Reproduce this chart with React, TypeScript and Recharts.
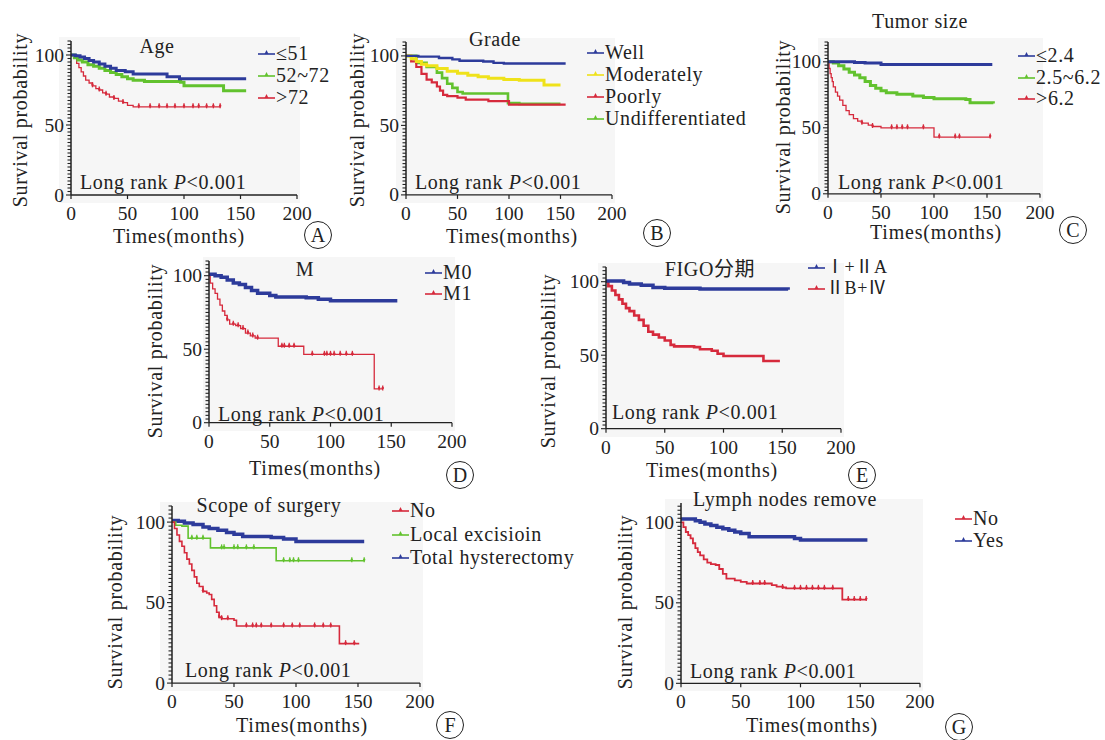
import React from 'react';
import { ComposedChart, Line, XAxis, YAxis } from 'recharts';

const SERIF = '"Liberation Serif", "Noto Sans CJK SC", serif';
const BLUE = '#2d3b9b';
const GREEN = '#62c22e';
const RED = '#d62a3c';
const YELLOW = '#efe21a';
const INK = '#222';

// [time in months, survival %, 1 = censored mark]
type Pt = [number, number, number?];

const xTicks = [0, 50, 100, 150, 200];
const yLabels = [0, 50, 100];

// A: Age
const ageLe51: Pt[] = [[0, 100], [4, 99.5], [8, 98.5], [12, 97.5], [16, 96], [20, 95], [25, 93.5], [30, 92], [35, 90.5], [40, 89], [48, 88], [55, 86.5], [85, 84.5], [96, 83], [155, 83]];
const age52to72: Pt[] = [[0, 100], [3, 98], [6, 96.5], [10, 95], [15, 93], [20, 92], [25, 90.5], [30, 89], [35, 87.5], [40, 86], [45, 84.5], [50, 83], [55, 82], [65, 81], [97, 80.5], [100, 78], [134, 78], [135, 74.5], [155, 74.5]];
const ageGt72: Pt[] = [[0, 100], [5, 94], [7, 91], [9, 88], [11, 85], [13, 82], [16, 80], [19, 78, 1], [22, 76], [25, 75, 1], [28, 73], [31, 72, 1], [34, 70], [38, 69, 1], [42, 67], [46, 66, 1], [50, 64], [55, 63], [60, 63, 1], [70, 63, 1], [78, 63, 1], [85, 63, 1], [92, 63, 1], [100, 63, 1], [108, 63, 1], [113, 63, 1], [120, 63, 1], [126, 63, 1], [132, 63, 1]];

// B: Grade
const gradeWell: Pt[] = [[0, 100], [12, 99.5], [32, 98.5], [45, 97.5], [52, 96.5], [75, 96], [85, 95], [95, 94.5], [155, 94.5]];
const gradeModerately: Pt[] = [[0, 100], [5, 98], [10, 96], [15, 94], [20, 93], [30, 91], [40, 89], [50, 87.5], [60, 86], [70, 85], [80, 84], [95, 83], [110, 82.5], [132, 82.5], [134, 79], [150, 79]];
const gradePoorly: Pt[] = [[0, 100], [5, 96], [10, 92], [15, 87], [20, 83], [25, 81], [30, 78], [33, 75], [36, 72], [40, 71], [50, 70], [58, 68.5], [80, 67.5], [100, 65], [155, 65]];
const gradeUndiff: Pt[] = [[0, 100], [10, 95], [20, 92], [30, 88], [35, 84], [40, 80], [45, 77], [50, 74], [55, 73], [97, 73], [99, 66], [110, 65.5], [150, 65.5]];

// C: Tumor size
const sizeLe24: Pt[] = [[0, 100], [15, 100], [25, 99.5], [35, 99], [50, 98], [155, 98]];
const sizeMid: Pt[] = [[0, 100], [5, 99], [10, 97], [15, 94.5], [20, 92], [25, 90], [30, 88], [35, 85], [40, 82], [45, 80], [50, 78], [55, 76.5], [65, 75.5], [80, 74], [90, 73], [100, 72], [130, 71.5], [134, 69], [156, 68.5]];
const sizeGt62: Pt[] = [[0, 100], [1, 95], [2, 91], [3, 88], [4, 85], [5, 81], [7, 77], [9, 74], [11, 71], [14, 67], [17, 63], [20, 60], [24, 57], [28, 55], [32, 53.5, 1], [38, 52], [42, 51, 1], [50, 50], [60, 50, 1], [65, 50, 1], [70, 50, 1], [75, 50, 1], [90, 50, 1], [99, 50], [100, 43], [105, 43, 1], [120, 43, 1], [124, 43, 1], [153, 43, 1]];

// D: M
const mM0: Pt[] = [[0, 101], [5, 100], [10, 99], [15, 97], [20, 95], [25, 94], [30, 92], [35, 90], [40, 88], [50, 86.5], [55, 85.5], [80, 85], [90, 84], [100, 83], [155, 83]];
const mM1: Pt[] = [[0, 100], [1, 95], [3, 91], [5, 88], [7, 84], [9, 80], [11, 76], [13, 73], [15, 70, 1], [17, 67], [20, 67, 1], [22, 66], [24, 66, 1], [26, 64], [28, 64, 1], [30, 61], [32, 61, 1], [34, 59], [36, 59, 1], [38, 57.5], [40, 57.5, 1], [56, 57.5], [57, 52], [60, 52, 1], [62, 52, 1], [66, 52, 1], [70, 52, 1], [77, 52], [78, 46.5], [85, 46.5, 1], [95, 46.5, 1], [97, 46.5, 1], [100, 46.5, 1], [103, 46.5, 1], [108, 46.5, 1], [113, 46.5, 1], [118, 46.5, 1], [135, 46.5], [136, 23], [140, 23, 1], [143, 23, 1]];

// E: FIGO stage
const figoEarly: Pt[] = [[0, 100.5], [10, 100.5], [15, 99.5], [20, 98.5], [30, 97.5], [40, 96], [50, 95.5], [80, 95], [155, 94.5]];
const figoLate: Pt[] = [[0, 100], [2, 97], [5, 94], [8, 91], [11, 88], [14, 85], [17, 82], [20, 80], [24, 77], [28, 74], [32, 70], [36, 66], [40, 64], [45, 62], [50, 60], [55, 57], [58, 56], [75, 55.5], [80, 54], [90, 53], [95, 51], [100, 49.5], [130, 49.5], [134, 46], [148, 46]];

// F: Scope of surgery
const surgNo: Pt[] = [[0, 100], [2, 96], [4, 92], [6, 88], [8, 85], [10, 81], [12, 77], [14, 74], [16, 70], [18, 66], [20, 62], [22, 60], [25, 57, 1], [28, 56], [30, 55], [32, 52], [34, 48], [36, 44], [38, 41, 1], [40, 40, 1], [45, 40, 1], [50, 39], [52, 35.5], [60, 35.5, 1], [65, 35.5, 1], [68, 35.5, 1], [72, 35.5, 1], [80, 35.5, 1], [90, 35.5, 1], [97, 35.5, 1], [103, 35.5, 1], [115, 35.5, 1], [122, 35.5, 1], [128, 35.5, 1], [134, 35.5], [135, 24.5], [140, 24.5, 1], [147, 24.5, 1], [151, 24.5]];
const surgLocal: Pt[] = [[0, 100], [3, 98], [8, 97.5], [13, 90], [16, 90, 1], [20, 90, 1], [25, 90, 1], [30, 90], [31, 84], [40, 84, 1], [42, 84, 1], [50, 84, 1], [53, 84, 1], [60, 84, 1], [66, 84, 1], [83, 84], [84, 76], [90, 76, 1], [95, 76, 1], [98, 76, 1], [102, 76, 1], [145, 76, 1], [155, 76, 1]];
const surgTotal: Pt[] = [[0, 101], [5, 100.5], [10, 99.5], [17, 98.5], [25, 97], [30, 96], [37, 95], [44, 93.5], [50, 92.5], [57, 91], [80, 90.5], [90, 89.5], [100, 88], [155, 88]];

// G: Lymph nodes remove
const lymphNo: Pt[] = [[0, 100], [2, 97], [4, 94], [6, 92], [8, 90], [10, 87], [12, 84], [14, 81.5], [16, 79.5], [19, 77], [22, 75], [25, 74], [29, 73.5], [32, 71], [35, 68], [38, 65], [45, 64], [50, 63], [55, 62], [60, 62, 1], [66, 62, 1], [70, 62, 1], [76, 61], [80, 60], [85, 59.5, 1], [88, 59], [95, 59, 1], [100, 59, 1], [105, 59, 1], [110, 59, 1], [115, 59, 1], [120, 59, 1], [127, 59, 1], [134, 59], [135, 52], [140, 52, 1], [145, 52, 1], [150, 52, 1], [155, 52, 1]];
const lymphYes: Pt[] = [[0, 102], [8, 102], [12, 101], [16, 100], [20, 99], [25, 98], [30, 97], [35, 96], [40, 95], [45, 94], [50, 93], [57, 91], [90, 91], [95, 90], [100, 89], [156, 89]];

type Series = { name: string; data: Pt[]; color: string; width: number };
type PanelDef = {
  letter: string;
  title: string;
  series: Series[]; // legend order
  x0: number; x200: number; y0: number; y100: number; yMax: number;
  titleAt: [number, number];
  legendAt: [number, number];
  legendGap: number;
  legendSize?: number;
  rankAt: [number, number];
  xLabelAt: [number, number];
  yLabelAt: [number, number];
  circleAt: [number, number];
  bgLeft: number;
};

const panels: PanelDef[] = [
  {
    letter: 'A', title: 'Age',
    series: [
      { name: '≤51', data: ageLe51, color: BLUE, width: 3 },
      { name: '52~72', data: age52to72, color: GREEN, width: 3 },
      { name: '>72', data: ageGt72, color: RED, width: 1.3 },
    ],
    x0: 71, x200: 297, y0: 195, y100: 55, yMax: 110,
    titleAt: [157, 46], legendAt: [258, 53], legendGap: 22,
    rankAt: [80, 182], xLabelAt: [179, 236], yLabelAt: [20, 120], circleAt: [318, 235], bgLeft: 12,
  },
  {
    letter: 'B', title: 'Grade',
    series: [
      { name: 'Well', data: gradeWell, color: BLUE, width: 2.4 },
      { name: 'Moderately', data: gradeModerately, color: YELLOW, width: 3 },
      { name: 'Poorly', data: gradePoorly, color: RED, width: 2.2 },
      { name: 'Undifferentiated', data: gradeUndiff, color: GREEN, width: 2.6 },
    ],
    x0: 406, x200: 612, y0: 195, y100: 56, yMax: 110,
    titleAt: [495, 39], legendAt: [587, 52], legendGap: 22,
    rankAt: [415, 182], xLabelAt: [512, 236], yLabelAt: [357, 120], circleAt: [657, 233], bgLeft: 10,
  },
  {
    letter: 'C', title: 'Tumor size',
    series: [
      { name: '≤2.4', data: sizeLe24, color: BLUE, width: 3 },
      { name: '2.5~6.2', data: sizeMid, color: GREEN, width: 3 },
      { name: '>6.2', data: sizeGt62, color: RED, width: 1.3 },
    ],
    x0: 828, x200: 1040, y0: 194, y100: 62, yMax: 115,
    titleAt: [920, 21], legendAt: [1018, 55], legendGap: 21.5,
    rankAt: [838, 182], xLabelAt: [936, 232], yLabelAt: [783, 127], circleAt: [1073, 230], bgLeft: 10,
  },
  {
    letter: 'D', title: 'M',
    series: [
      { name: 'M0', data: mM0, color: BLUE, width: 3.5 },
      { name: 'M1', data: mM1, color: RED, width: 1.3 },
    ],
    x0: 209, x200: 452, y0: 423, y100: 276, yMax: 110,
    titleAt: [305, 269], legendAt: [425, 272], legendGap: 21,
    rankAt: [218, 414], xLabelAt: [315, 468], yLabelAt: [155, 351], circleAt: [460, 475], bgLeft: 6,
  },
  {
    letter: 'E', title: 'FIGO分期',
    series: [
      { name: 'Ⅰ+ⅡA', data: figoEarly, color: BLUE, width: 3.5 },
      { name: 'ⅡB+Ⅳ', data: figoLate, color: RED, width: 2.6 },
    ],
    x0: 606, x200: 841, y0: 429, y100: 282, yMax: 110,
    titleAt: [710, 269], legendAt: [808, 267], legendGap: 21, legendSize: 18,
    rankAt: [612, 412], xLabelAt: [712, 470], yLabelAt: [548, 361], circleAt: [862, 475], bgLeft: 8,
  },
  {
    letter: 'F', title: 'Scope of surgery',
    series: [
      { name: 'No', data: surgNo, color: RED, width: 1.6 },
      { name: 'Local excisioin', data: surgLocal, color: GREEN, width: 1.6 },
      { name: 'Total hysterectomy', data: surgTotal, color: BLUE, width: 3.5 },
    ],
    x0: 172, x200: 420, y0: 683, y100: 522, yMax: 110,
    titleAt: [269, 505], legendAt: [392, 510], legendGap: 23.5,
    rankAt: [185, 670], xLabelAt: [302, 725], yLabelAt: [115, 602], circleAt: [450, 725], bgLeft: 12,
  },
  {
    letter: 'G', title: 'Lymph nodes remove',
    series: [
      { name: 'No', data: lymphNo, color: RED, width: 1.8 },
      { name: 'Yes', data: lymphYes, color: BLUE, width: 3.5 },
    ],
    x0: 681, x200: 920, y0: 683, y100: 522, yMax: 112,
    titleAt: [785, 499], legendAt: [955, 518], legendGap: 22,
    rankAt: [690, 671], xLabelAt: [812, 725], yLabelAt: [625, 602], circleAt: [959, 727], bgLeft: 16,
  },
];

const toRows = (pts: Pt[]) => pts.map(([t, s, c]) => ({ t, s, c: c || 0 }));

function YTick(props: any) {
  const { x, y, payload } = props;
  const v = payload.value;
  const major = yLabels.includes(v);
  return (
    <g>
      <line x1={x - (major ? 5 : 3.5)} x2={x} y1={y} y2={y} stroke={INK} strokeWidth={1.1} />
      {major && (
        <text x={x - 7} y={y} textAnchor="end" dominantBaseline="central" fontSize={19.5} fontFamily={SERIF} fill={INK}>
          {v}
        </text>
      )}
    </g>
  );
}

const censorDot = (color: string) => (props: any) => {
  const { cx, cy, payload, index } = props;
  if (!payload || !payload.c) return <g key={`n${index}`} />;
  return (
    <g key={`c${index}`}>
      <line x1={cx} x2={cx} y1={cy - 3.5} y2={cy + 1.5} stroke={color} strokeWidth={1.3} />
      <circle cx={cx} cy={cy - 1} r={1.2} fill={color} />
    </g>
  );
};

const txt: React.CSSProperties = {
  position: 'absolute',
  fontFamily: SERIF,
  fontSize: 20,
  letterSpacing: 0.6,
  color: INK,
  whiteSpace: 'nowrap',
  lineHeight: 1,
};

function LegendMark({ color }: { color: string }) {
  return (
    <svg width={17} height={10} style={{ display: 'inline-block', marginRight: 1 }}>
      <line x1={0} x2={17} y1={6} y2={6} stroke={color} strokeWidth={1.6} />
      <polygon points="8.5,2 6.5,6 10.5,6" fill={color} />
    </svg>
  );
}

function KMPanel({ p }: { p: PanelDef }) {
  const ML = 60, MR = 15, MT = 6, MB = 36;
  const sc = (p.y0 - p.y100) / 100;
  const plotW = p.x200 - p.x0;
  const plotH = p.yMax * sc;
  const top = p.y0 - plotH;
  const minor: number[] = [];
  for (let v = 0; v <= p.yMax + 0.01; v += 2.5) minor.push(v);
  const drawOrder = [...p.series].reverse();

  return (
    <>
      <div
        style={{
          position: 'absolute',
          left: p.x0 - p.bgLeft,
          top: top - 4,
          width: plotW + p.bgLeft + 3,
          height: plotH + 12,
          background: '#f6f6f6',
        }}
      />
      <div style={{ position: 'absolute', left: p.x0 - ML, top: top - MT }}>
        <ComposedChart
          width={ML + plotW + MR}
          height={MT + plotH + MB}
          margin={{ top: MT, right: MR, bottom: 0, left: 0 }}
        >
          <XAxis
            type="number"
            dataKey="t"
            domain={[0, 200]}
            ticks={xTicks}
            height={MB}
            tickSize={4}
            tickMargin={7}
            axisLine={{ stroke: INK, strokeWidth: 1.3 }}
            tickLine={{ stroke: INK, strokeWidth: 1.2 }}
            tick={{ fontSize: 19.5, fill: INK, fontFamily: SERIF }}
          />
          <YAxis
            type="number"
            domain={[0, p.yMax]}
            ticks={minor}
            interval={0}
            width={ML}
            tickSize={0}
            tickMargin={0}
            tickLine={false}
            tick={<YTick />}
            axisLine={{ stroke: INK, strokeWidth: 1.5 }}
          />
          {drawOrder.map((s) => (
            <Line
              key={s.name}
              data={toRows(s.data)}
              dataKey="s"
              type="stepAfter"
              stroke={s.color}
              strokeWidth={s.width}
              dot={censorDot(s.color)}
              activeDot={false}
              isAnimationActive={false}
            />
          ))}
        </ComposedChart>
      </div>

      <div style={{ ...txt, left: p.titleAt[0], top: p.titleAt[1], transform: 'translate(-50%, -50%)' }}>{p.title}</div>

      {p.series.map((s, i) => (
        <div
          key={s.name}
          style={{
            ...txt,
            fontSize: p.legendSize || 20,
            left: p.legendAt[0],
            top: p.legendAt[1] + i * p.legendGap,
            transform: 'translateY(-50%)',
            display: 'flex',
            alignItems: 'center',
          }}
        >
          <LegendMark color={s.color} />
          <span>{s.name}</span>
        </div>
      ))}

      <div style={{ ...txt, left: p.rankAt[0], top: p.rankAt[1], transform: 'translateY(-50%)' }}>
        Long rank <i>P</i>&lt;0.001
      </div>

      <div style={{ ...txt, left: p.xLabelAt[0], top: p.xLabelAt[1], transform: 'translate(-50%, -50%)', letterSpacing: 0.8 }}>
        Times(months)
      </div>

      <div style={{ ...txt, left: p.yLabelAt[0], top: p.yLabelAt[1], transform: 'translate(-50%, -50%) rotate(-90deg)', letterSpacing: 0.7 }}>
        Survival probability
      </div>

      <div
        style={{
          ...txt,
          left: p.circleAt[0] - 14,
          top: p.circleAt[1] - 14,
          width: 26,
          height: 26,
          border: `1.3px solid ${INK}`,
          borderRadius: '50%',
          display: 'flex',
          alignItems: 'center',
          justifyContent: 'center',
          letterSpacing: 0,
        }}
      >
        {p.letter}
      </div>
    </>
  );
}

export default function App() {
  return (
    <div style={{ position: 'absolute', left: 0, top: 0, width: 1105, height: 740, background: '#fff', overflow: 'hidden' }}>
      {panels.map((p) => (
        <KMPanel key={p.letter} p={p} />
      ))}
    </div>
  );
}
